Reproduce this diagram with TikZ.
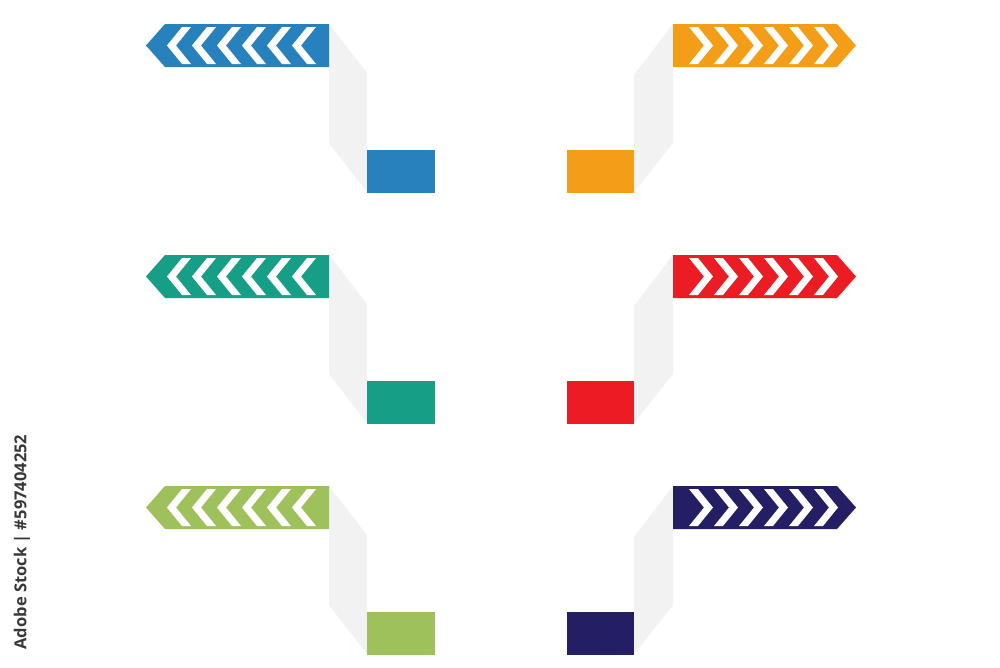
\documentclass[tikz,border=0pt]{standalone}
\usepackage{fontspec}
\newfontfamily\wmfont{Open Sans}
\definecolor{cblue}{RGB}{38,129,189}
\definecolor{cteal}{RGB}{23,158,134}
\definecolor{cgreen}{RGB}{158,193,92}
\definecolor{corange}{RGB}{243,157,25}
\definecolor{cred}{RGB}{236,28,36}
\definecolor{cnavy}{RGB}{36,31,100}
\definecolor{ribbon}{RGB}{242,242,242}
\tikzset{
  ribbonfill/.style={fill=ribbon},
  chev/.style={fill=white},
}
% left item: #1 = y offset, #2 = colour
\newcommand{\leftitem}[2]{%
  \begin{scope}[yshift=-#1pt]
    \fill[ribbonfill] (329,24) -- (367,73) -- (367,192) -- (329,143) -- cycle;
    \fill[#2] (146,45.5) -- (165,24) -- (329,24) -- (329,67) -- (165,67) -- cycle;
    \foreach \k in {0,...,5}{
      \pgfmathsetmacro{\t}{167+25*\k}
      \fill[chev] (\t,45.5) -- (\t+15,27) -- (\t+24,27) -- (\t+9,45.5) -- (\t+24,64) -- (\t+15,64) -- cycle;
    }
    \fill[#2] (367,150) rectangle (435,193);
  \end{scope}}
\newcommand{\rightitem}[2]{%
  \begin{scope}[yshift=-#1pt]
    \fill[ribbonfill] (673,24) -- (634,75) -- (634,192) -- (673,143) -- cycle;
    \fill[#2] (673,24) -- (837,24) -- (856,45.5) -- (837,67) -- (673,67) -- cycle;
    \foreach \k in {0,...,5}{
      \pgfmathsetmacro{\t}{838-25*\k}
      \fill[chev] (\t,45.5) -- (\t-15,27) -- (\t-24,27) -- (\t-9,45.5) -- (\t-24,64) -- (\t-15,64) -- cycle;
    }
    \fill[#2] (567,150) rectangle (634,193);
  \end{scope}}
\begin{document}
\begin{tikzpicture}[x=1pt,y=-1pt]
  \useasboundingbox[fill=white] (0,0) rectangle (1000,667);
  \leftitem{0}{cblue}
  \leftitem{231}{cteal}
  \leftitem{462}{cgreen}
  \rightitem{0}{corange}
  \rightitem{231}{cred}
  \rightitem{462}{cnavy}
  \node[rotate=90, text=black!78, font=\wmfont\bfseries\fontsize{16.5}{18}\selectfont, inner sep=0pt] (wm) at (22,542) {Adobe Stock | \#597404252};
\end{tikzpicture}
\end{document}
